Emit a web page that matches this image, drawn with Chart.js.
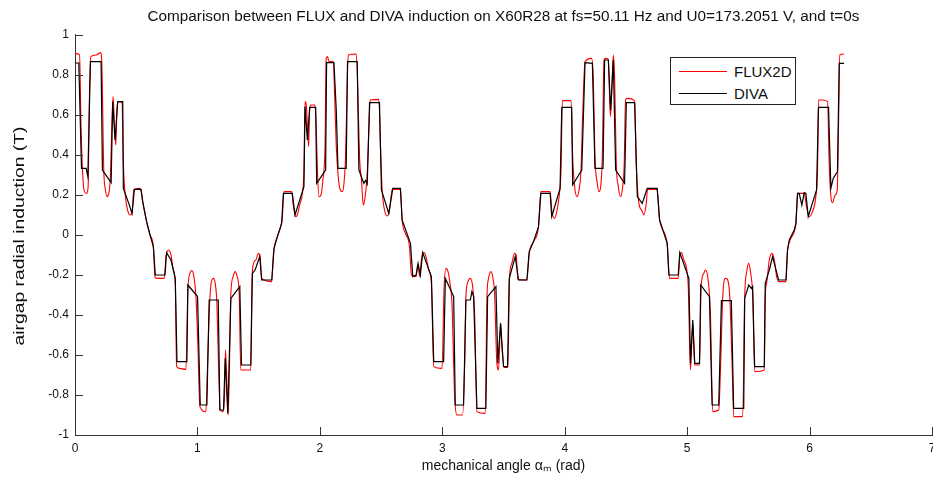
<!DOCTYPE html>
<html>
<head>
<meta charset="utf-8">
<title>FLUX vs DIVA induction</title>
<script src="https://cdn.jsdelivr.net/npm/chart.js@4.4.1/dist/chart.umd.min.js"></script>
<style>
  html, body { margin: 0; padding: 0; background: #fff; overflow: hidden; }
  #wrap { position: relative; width: 933px; height: 477px; overflow: hidden; }
  #legend {
    position: absolute; left: 670px; top: 57px; width: 126px; height: 48px;
    box-sizing: border-box; border: 1px solid #222; background: #fff;
    font: 15px "Liberation Sans", Arial, sans-serif; color: #111;
  }
  #legend .row { position: absolute; left: 8px; height: 20px; display: flex; align-items: center; }
  #legend .swatch { width: 48px; height: 0; margin-right: 7px; }
</style>
</head>
<body>
<div id="wrap">
  <canvas id="chart" width="945" height="477"></canvas>
  <div id="legend">
    <div class="row" style="top:3px"><span class="swatch" style="border-top:1px solid #ff0000"></span>FLUX2D</div>
    <div class="row" style="top:25px"><span class="swatch" style="border-top:1px solid #000"></span>DIVA</div>
  </div>
</div>
<script>
// axis ticks
const xTicks = [0, 1, 2, 3, 4, 5, 6, 7];
const yTicks = [-1, -0.8, -0.6, -0.4, -0.2, 0, 0.2, 0.4, 0.6, 0.8, 1];

// FLUX2D (red)
const fluxX = [
  0, 0.037, 0.050, 0.064, 0.077, 0.096, 0.107, 0.118, 0.129, 0.173, 0.208, 0.219, 0.235, 0.249, 0.262, 0.276, 0.289, 0.300, 0.311, 0.322,
  0.333, 0.344, 0.355, 0.384, 0.395, 0.412, 0.433, 0.452, 0.466, 0.480, 0.526, 0.539, 0.553, 0.585, 0.613, 0.640, 0.653, 0.667, 0.729, 0.743,
  0.765, 0.784, 0.803, 0.819, 0.830, 0.852, 0.906, 0.922, 0.939, 0.955, 0.971, 0.988, 1.004, 1.020, 1.069, 1.083, 1.096, 1.110, 1.129, 1.145,
  1.159, 1.172, 1.186, 1.210, 1.221, 1.229, 1.240, 1.251, 1.262, 1.273, 1.292, 1.308, 1.324, 1.341, 1.354,
  1.436, 1.444, 1.455, 1.477, 1.498, 1.512, 1.525, 1.607, 1.621, 1.653, 1.680, 1.694, 1.707, 1.770, 1.784, 1.803, 1.816, 1.835, 1.857, 1.870,
  1.879, 1.889, 1.900, 1.908, 1.917, 1.927, 1.960, 1.971, 1.982, 1.993, 2.009, 2.025, 2.042, 2.052, 2.063, 2.074, 2.110, 2.121, 2.134, 2.150,
  2.167, 2.183, 2.197, 2.210, 2.224, 2.232, 2.297, 2.308, 2.324, 2.340, 2.354, 2.368, 2.387, 2.400, 2.411, 2.482, 2.495, 2.509, 2.528, 2.550,
  2.569, 2.591, 2.658, 2.672, 2.699, 2.732, 2.748,
  2.786, 2.800, 2.816, 2.829, 2.848, 2.867, 2.889, 2.911, 2.930, 2.998, 3.014, 3.030, 3.047, 3.063, 3.079, 3.101, 3.120, 3.166, 3.183, 3.193,
  3.210, 3.229, 3.248, 3.264, 3.283, 3.351, 3.365, 3.378, 3.397, 3.414, 3.427, 3.446, 3.460, 3.476, 3.487, 3.506, 3.536, 3.549, 3.568, 3.590,
  3.604, 3.617, 3.691, 3.710, 3.745, 3.786, 3.805, 3.881, 3.894, 3.916, 3.935, 3.954, 3.970, 3.981, 4.052, 4.065, 4.084, 4.103, 4.117, 4.133,
  4.147, 4.166,
  4.220, 4.234, 4.247, 4.266, 4.280, 4.294, 4.307, 4.321, 4.334, 4.356, 4.373, 4.383, 4.397, 4.408, 4.421, 4.438, 4.456, 4.470, 4.486, 4.497,
  4.511, 4.571, 4.584, 4.606, 4.628, 4.647, 4.666, 4.677, 4.755, 4.775, 4.837, 4.856, 4.927, 4.940, 4.954, 4.973, 5.008, 5.027, 5.046, 5.062,
  5.101, 5.114, 5.136, 5.149, 5.168, 5.190, 5.209, 5.258, 5.274, 5.291, 5.312, 5.329, 5.348, 5.367, 5.380, 5.454, 5.470, 5.489, 5.503, 5.517,
  5.536, 5.552,
  5.630, 5.638, 5.649, 5.671, 5.693, 5.712, 5.731, 5.747, 5.807, 5.820, 5.888, 5.902, 5.956, 5.975, 5.997, 6.024, 6.051, 6.065, 6.073, 6.106,
  6.147, 6.160, 6.174, 6.187, 6.209, 6.226, 6.236, 6.247, 6.282
];
const fluxY = [
  0.908, 0.9, 0.525, 0.292, 0.217, 0.208, 0.242, 0.692, 0.892, 0.9, 0.912, 0.858, 0.325, 0.225, 0.192, 0.208, 0.292, 0.525, 0.692, 0.558,
  0.45, 0.642, 0.667, 0.662, 0.358, 0.192, 0.117, 0.1, 0.108, 0.225, 0.233, 0.225, 0.167, 0.067, 0, -0.058, -0.208, -0.217, -0.217, -0.108,
  -0.075, -0.1, -0.175, -0.242, -0.658, -0.667, -0.672, -0.275, -0.192, -0.178, -0.208, -0.308, -0.558, -0.858, -0.883, -0.642, -0.392, -0.25, -0.217, -0.242,
  -0.342, -0.642, -0.875, -0.883, -0.808, -0.575, -0.725, -0.9, -0.642, -0.292, -0.208, -0.183, -0.208, -0.292, -0.675,
  -0.675, -0.275, -0.15, -0.125, -0.092, -0.108, -0.217, -0.233, -0.092, -0.008, 0.042, 0.092, 0.217, 0.217, 0.142, 0.092, 0.1, 0.15, 0.208, 0.325,
  0.667, 0.65, 0.525, 0.442, 0.625, 0.65, 0.65, 0.525, 0.292, 0.192, 0.2, 0.275, 0.442, 0.883, 0.892, 0.867, 0.867, 0.692, 0.442, 0.292,
  0.225, 0.217, 0.258, 0.392, 0.775, 0.9, 0.905, 0.775, 0.392, 0.275, 0.15, 0.183, 0.308, 0.525, 0.675, 0.678, 0.442, 0.225, 0.125, 0.095,
  0.125, 0.228, 0.228, 0.075, 0.008, -0.058, -0.2,
  -0.208, -0.15, -0.208, -0.125, -0.088, -0.108, -0.175, -0.242, -0.658, -0.667, -0.275, -0.167, -0.183, -0.242, -0.342, -0.808, -0.9, -0.9, -0.642, -0.308,
  -0.233, -0.217, -0.258, -0.392, -0.883, -0.892, -0.308, -0.217, -0.183, -0.217, -0.292, -0.642, -0.675, -0.442, -0.558, -0.662, -0.662, -0.217, -0.142, -0.092,
  -0.1, -0.222, -0.225, -0.092, -0.033, 0.042, 0.217, 0.217, 0.125, 0.083, 0.117, 0.192, 0.325, 0.672, 0.672, 0.392, 0.225, 0.192, 0.225, 0.325,
  0.608, 0.867,
  0.883, 0.775, 0.392, 0.258, 0.217, 0.242, 0.392, 0.875, 0.883, 0.878, 0.592, 0.692, 0.9, 0.775, 0.358, 0.242, 0.192, 0.225, 0.358, 0.675,
  0.683, 0.672, 0.358, 0.158, 0.125, 0.1, 0.158, 0.228, 0.228, 0.075, -0.042, -0.217, -0.217, -0.108, -0.088, -0.125, -0.242, -0.675, -0.442, -0.65,
  -0.65, -0.258, -0.192, -0.175, -0.208, -0.392, -0.883, -0.875, -0.642, -0.308, -0.217, -0.222, -0.308, -0.642, -0.908, -0.908, -0.308, -0.175, -0.142, -0.183,
  -0.308, -0.683,
  -0.675, -0.308, -0.242, -0.125, -0.092, -0.125, -0.208, -0.233, -0.233, -0.075, 0.05, 0.208, 0.208, 0.142, 0.092, 0.117, 0.192, 0.325, 0.675, 0.675,
  0.667, 0.358, 0.192, 0.162, 0.2, 0.225, 0.525, 0.9, 0.905
];

// DIVA (black)
const divaX = [
  0, 0.031, 0.053, 0.091, 0.105, 0.126, 0.213, 0.224, 0.295, 0.308, 0.327, 0.349, 0.390, 0.395, 0.439, 0.466, 0.485, 0.539, 0.553, 0.585,
  0.613, 0.640, 0.656, 0.735, 0.748, 0.784, 0.819, 0.833, 0.914, 0.922, 1.001, 1.023, 1.077, 1.096, 1.170, 1.183, 1.213, 1.227, 1.248, 1.273,
  1.346, 1.360,
  1.436, 1.449, 1.471, 1.509, 1.525, 1.607, 1.626, 1.653, 1.688, 1.702, 1.775, 1.797, 1.870, 1.879, 1.898, 1.917, 1.966, 1.974, 2.047, 2.055,
  2.115, 2.134, 2.148, 2.215, 2.226, 2.305, 2.319, 2.359, 2.373, 2.387, 2.406, 2.487, 2.503, 2.563, 2.596, 2.658, 2.672, 2.740, 2.759,
  2.786, 2.802, 2.821, 2.840, 2.911, 2.930, 3.011, 3.025, 3.093, 3.106, 3.174, 3.193, 3.229, 3.242, 3.256, 3.283, 3.356, 3.370, 3.438, 3.454,
  3.476, 3.500, 3.533, 3.547, 3.596, 3.623, 3.691, 3.710, 3.745, 3.786, 3.805, 3.881, 3.894, 3.962, 3.976, 4.057, 4.065, 4.139, 4.166,
  4.226, 4.247, 4.313, 4.326, 4.356, 4.375, 4.397, 4.416, 4.489, 4.503, 4.571, 4.593, 4.633, 4.674, 4.755, 4.775, 4.837, 4.851, 4.927, 4.940,
  5.014, 5.027, 5.046, 5.062, 5.101, 5.111, 5.182, 5.204, 5.258, 5.280, 5.361, 5.380, 5.462, 5.470, 5.503, 5.524, 5.535, 5.551,
  5.630, 5.638, 5.671, 5.698, 5.747, 5.807, 5.820, 5.834, 5.875, 5.888, 5.902, 5.915, 5.937, 5.956, 5.970, 5.989, 6.057, 6.073, 6.155, 6.174,
  6.193, 6.228, 6.242, 6.282
];
const divaY = [
  0.86, 0.86, 0.333, 0.333, 0.292, 0.867, 0.867, 0.325, 0.262, 0.667, 0.475, 0.667, 0.667, 0.233, 0.158, 0.108, 0.228, 0.228, 0.167, 0.067,
  0, -0.058, -0.2, -0.2, -0.088, -0.125, -0.217, -0.633, -0.633, -0.25, -0.308, -0.85, -0.85, -0.325, -0.325, -0.875, -0.875, -0.617, -0.892, -0.317,
  -0.258, -0.65,
  -0.65, -0.192, -0.175, -0.108, -0.225, -0.225, -0.067, -0.008, 0.058, 0.208, 0.208, 0.1, 0.242, 0.642, 0.475, 0.638, 0.638, 0.258, 0.325, 0.862,
  0.862, 0.625, 0.333, 0.333, 0.867, 0.867, 0.325, 0.258, 0.272, 0.255, 0.662, 0.662, 0.225, 0.108, 0.233, 0.233, 0.075, -0.042, -0.208,
  -0.2, -0.142, -0.2, -0.088, -0.208, -0.633, -0.633, -0.217, -0.308, -0.85, -0.85, -0.325, -0.325, -0.283, -0.308, -0.867, -0.867, -0.308, -0.258, -0.642,
  -0.442, -0.658, -0.658, -0.217, -0.108, -0.225, -0.225, -0.083, -0.033, 0.042, 0.208, 0.208, 0.092, 0.233, 0.638, 0.638, 0.25, 0.325, 0.862,
  0.858, 0.333, 0.333, 0.875, 0.875, 0.625, 0.875, 0.325, 0.258, 0.662, 0.662, 0.192, 0.158, 0.233, 0.233, 0.075, -0.042, -0.2, -0.2, -0.088,
  -0.217, -0.642, -0.425, -0.642, -0.642, -0.25, -0.308, -0.85, -0.85, -0.328, -0.328, -0.867, -0.867, -0.317, -0.25, -0.267, -0.258, -0.658,
  -0.658, -0.242, -0.175, -0.108, -0.225, -0.225, -0.075, -0.025, 0.025, 0.058, 0.208, 0.208, 0.15, 0.212, 0.208, 0.092, 0.225, 0.638, 0.638, 0.233,
  0.283, 0.317, 0.858, 0.858
];

const yTitle = 'airgap radial induction (T)';

const toPoints = (xs, ys) => xs.map((x, i) => ({ x: x, y: ys[i] }));

const FONT = '"Liberation Sans", Arial, Helvetica, sans-serif';
const AXIS_COLOR = '#333';

// matlab-style ticks pointing into the plot
const insideTicks = {
  id: 'insideTicks',
  afterDatasetsDraw(chart) {
    const { ctx, chartArea, scales } = chart;
    const len = 8;
    ctx.save();
    ctx.strokeStyle = AXIS_COLOR;
    ctx.lineWidth = 1;
    ctx.beginPath();
    xTicks.forEach(v => {
      const px = Math.round(scales.x.getPixelForValue(v)) + 0.5;
      ctx.moveTo(px, chartArea.bottom);
      ctx.lineTo(px, chartArea.bottom - len);
    });
    yTicks.forEach(v => {
      const py = Math.round(scales.y.getPixelForValue(v)) + 0.5;
      ctx.moveTo(chartArea.left, py);
      ctx.lineTo(chartArea.left + len, py);
    });
    ctx.stroke();
    ctx.restore();
  }
};

// y label: the original's vertical text is drawn longer than its font height
const stretchedYTitle = {
  id: 'stretchedYTitle',
  afterDraw(chart) {
    const { ctx, chartArea } = chart;
    ctx.save();
    ctx.translate(20, (chartArea.top + chartArea.bottom) / 2 + 1);
    ctx.rotate(-Math.PI / 2);
    ctx.scale(1.38, 1);
    ctx.font = '14px ' + FONT;
    ctx.fillStyle = '#111';
    ctx.textAlign = 'center';
    ctx.textBaseline = 'middle';
    ctx.fillText(yTitle, 0, 0);
    ctx.restore();
  }
};

new Chart(document.getElementById('chart'), {
  type: 'line',
  data: {
    datasets: [
      {
        label: 'FLUX2D',
        data: toPoints(fluxX, fluxY),
        borderColor: '#ff0000',
        borderWidth: 1.1,
        pointRadius: 0,
        cubicInterpolationMode: 'monotone',
        order: 2
      },
      {
        label: 'DIVA',
        data: toPoints(divaX, divaY),
        borderColor: '#000000',
        borderWidth: 1.2,
        pointRadius: 0,
        tension: 0,
        order: 1
      }
    ]
  },
  options: {
    responsive: false,
    animation: false,
    layout: { padding: { left: 0, right: 13, top: 0, bottom: 0 } },
    plugins: {
      legend: { display: false },
      tooltip: { enabled: false },
      title: {
        display: true,
        fullSize: false,
        text: 'Comparison between FLUX and DIVA induction on X60R28 at fs=50.11 Hz and U0=173.2051 V, and t=0s',
        color: '#111',
        font: { family: FONT, size: 15.3, weight: 'normal', lineHeight: 1.15 },
        padding: { top: 8, bottom: 9.4 }
      }
    },
    scales: {
      x: {
        type: 'linear',
        min: 0,
        max: 7,
        afterBuildTicks: s => { s.ticks = xTicks.map(v => ({ value: v })); },
        afterFit: s => { s.height = 42; },
        grid: { drawOnChartArea: false, drawTicks: false },
        border: { display: true, color: AXIS_COLOR, width: 1 },
        ticks: { padding: 6, color: '#111', font: { family: FONT, size: 12 }, maxRotation: 0 },
        title: {
          display: true,
          text: 'mechanical angle \u03b1\u2098 (rad)',
          color: '#111',
          font: { family: FONT, size: 14 },
          padding: { top: 0, bottom: 2.6 }
        }
      },
      y: {
        min: -1,
        max: 1,
        afterBuildTicks: s => { s.ticks = yTicks.map(v => ({ value: v })); },
        afterFit: s => { s.width = 75; },
        grid: { drawOnChartArea: false, drawTicks: false },
        border: { display: true, color: AXIS_COLOR, width: 1 },
        ticks: {
          padding: 6,
          color: '#111',
          font: { family: FONT, size: 12 },
          callback: v => String(Math.round(v * 10) / 10)
        },
        title: { display: false }
      }
    }
  },
  plugins: [insideTicks, stretchedYTitle]
});
</script>
</body>
</html>
